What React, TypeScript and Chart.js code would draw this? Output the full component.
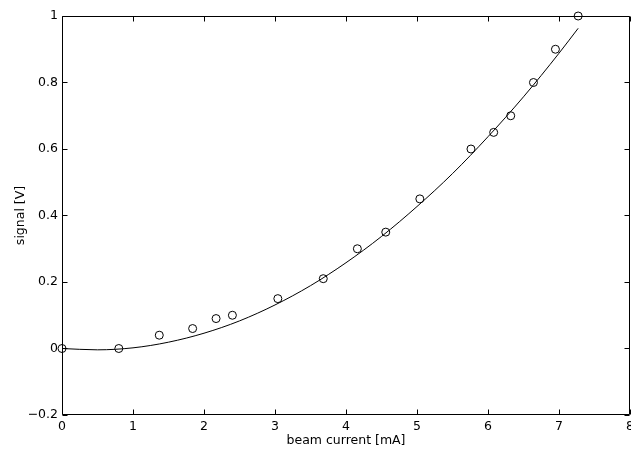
import React, { useEffect, useRef } from "react";
import { Chart, registerables } from "chart.js";

Chart.register(...registerables);

// measured data (circles)
const measuredX = [0, 0.8, 1.37, 1.84, 2.17, 2.4, 3.04, 3.68, 4.16, 4.56, 5.04, 5.76, 6.08, 6.32, 6.64, 6.95, 7.27];
const measuredY = [0, 0, 0.04, 0.06, 0.09, 0.1, 0.15, 0.21, 0.3, 0.35, 0.45, 0.6, 0.65, 0.7, 0.8, 0.9, 1.0];

// fitted curve
const fitX = [0, 0.5, 1, 1.5, 2, 2.5, 3, 3.5, 4, 4.5, 5, 5.5, 6, 6.5, 7, 7.27];
const fitY = [0, -0.004, 0.002, 0.019, 0.046, 0.083, 0.131, 0.189, 0.258, 0.337, 0.427, 0.526, 0.637, 0.757, 0.888, 0.963];

// axis ticks
const xTicks = [0, 1, 2, 3, 4, 5, 6, 7, 8];
const yTicks = [-0.2, 0, 0.2, 0.4, 0.6, 0.8, 1];

const xTitle = "beam current [mA]";
const yTitle = "signal [V]";

const FONT = { family: "'DejaVu Sans', 'Liberation Sans', Arial, sans-serif", size: 12.5 };

const framePlugin = {
  id: "matlabFrame",
  afterDatasetsDraw(chart: any) {
    const { ctx, chartArea, scales } = chart;
    const L = Math.round(chartArea.left) + 0.5;
    const R = Math.round(chartArea.right) - 0.5;
    const T = Math.round(chartArea.top) + 0.5;
    const B = Math.round(chartArea.bottom) - 0.5;
    const tl = 5;
    ctx.save();
    ctx.strokeStyle = "#000";
    ctx.lineWidth = 1;
    ctx.beginPath();
    ctx.rect(L, T, R - L, B - T);
    ctx.stroke();
    ctx.beginPath();
    for (const v of xTicks) {
      const px = Math.round(scales.x.getPixelForValue(v)) + 0.5;
      ctx.moveTo(px, B);
      ctx.lineTo(px, B - tl);
      ctx.moveTo(px, T);
      ctx.lineTo(px, T + tl);
    }
    for (const v of yTicks) {
      const py = Math.round(scales.y.getPixelForValue(v)) + 0.5;
      ctx.moveTo(L, py);
      ctx.lineTo(L + tl, py);
      ctx.moveTo(R, py);
      ctx.lineTo(R - tl, py);
    }
    ctx.stroke();
    ctx.restore();
  },
};

export default function App() {
  const ref = useRef<HTMLCanvasElement | null>(null);

  useEffect(() => {
    if (!ref.current) return;
    const chart = new Chart(ref.current, {
      type: "scatter",
      data: {
        datasets: [
          {
            label: "fit",
            data: fitX.map((x, i) => ({ x, y: fitY[i] })),
            showLine: true,
            borderColor: "#000",
            borderWidth: 1,
            pointRadius: 0,
            cubicInterpolationMode: "monotone",
            fill: false,
          } as any,
          {
            label: "data",
            data: measuredX.map((x, i) => ({ x, y: measuredY[i] })),
            showLine: false,
            pointStyle: "circle",
            pointRadius: 4,
            borderColor: "#000",
            borderWidth: 1,
            backgroundColor: "rgba(0,0,0,0)",
            clip: false,
          } as any,
        ],
      },
      options: {
        animation: false,
        responsive: false,
        layout: { autoPadding: false, padding: { top: 16, right: 1, bottom: 0, left: 0 } },
        plugins: { legend: { display: false }, tooltip: { enabled: false } },
        scales: {
          x: {
            type: "linear",
            min: 0,
            max: 8,
            afterBuildTicks: (s: any) => {
              s.ticks = xTicks.map((v) => ({ value: v }));
            },
            afterFit: (s: any) => {
              s.height = 36;
              s.paddingLeft = 0;
              s.paddingRight = 0;
            },
            grid: { display: false, drawTicks: false },
            border: { display: false },
            ticks: {
              color: "#000",
              font: FONT,
              padding: 4,
              maxRotation: 0,
              autoSkip: false,
              callback: (v: any) => String(v),
            },
            title: {
              display: true,
              text: xTitle,
              color: "#000",
              font: FONT,
              padding: { top: 0, bottom: 3 },
            },
          },
          y: {
            type: "linear",
            min: -0.2,
            max: 1,
            afterBuildTicks: (s: any) => {
              s.ticks = yTicks.map((v) => ({ value: v }));
            },
            afterFit: (s: any) => {
              s.width = 62;
              s.paddingTop = 0;
              s.paddingBottom = 0;
            },
            grid: { display: false, drawTicks: false },
            border: { display: false },
            ticks: {
              color: "#000",
              font: FONT,
              padding: 4,
              autoSkip: false,
              callback: (v: any) => {
                const n = Number(Number(v).toFixed(1));
                return n < 0 ? "\u2212" + String(Math.abs(n)) : String(n);
              },
            },
            title: {
              display: true,
              text: yTitle,
              color: "#000",
              font: FONT,
              padding: { top: 13, bottom: 0 },
            },
          },
        },
      },
      plugins: [framePlugin],
    });
    return () => chart.destroy();
  }, []);

  return (
    <div style={{ position: "absolute", left: 0, top: 0, width: 631, height: 451, background: "#fff" }}>
      <canvas ref={ref} width={631} height={451} style={{ display: "block" }} />
    </div>
  );
}
